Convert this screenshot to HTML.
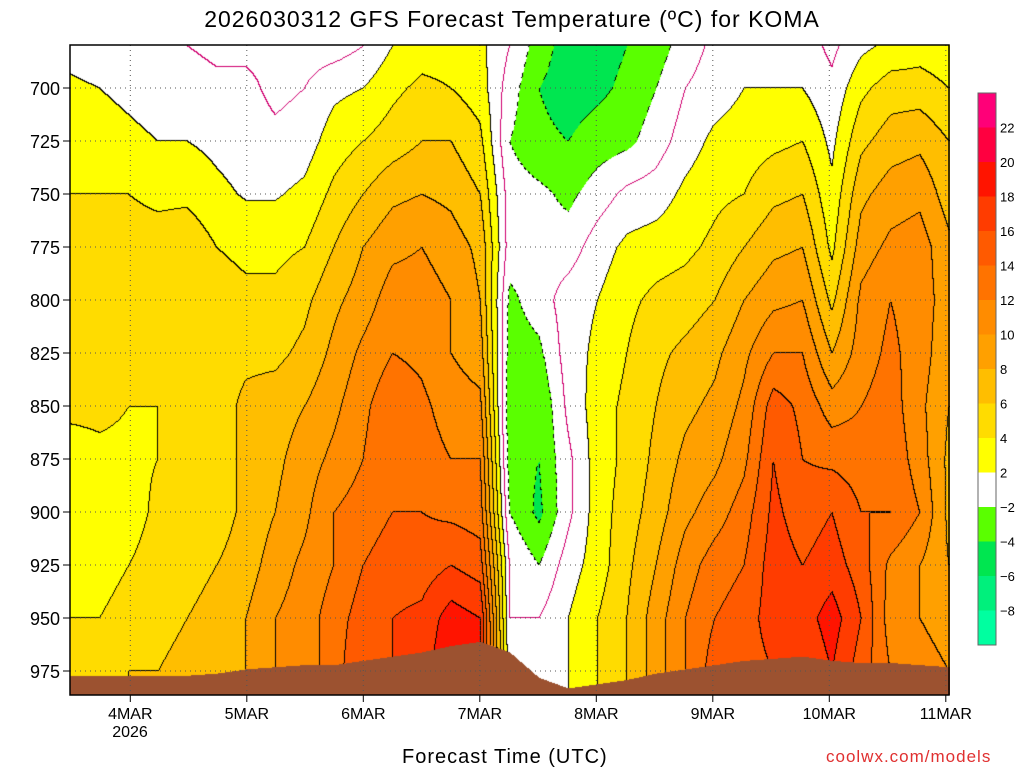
<!DOCTYPE html>
<html><head><meta charset="utf-8">
<style>
body{margin:0;background:#fff;width:1024px;height:768px;overflow:hidden;position:relative;font-family:"Liberation Sans",sans-serif;}
.t{position:absolute;white-space:nowrap;color:#000;}
</style></head><body>
<div class="t" style="left:0;width:1024px;text-align:center;top:6px;font-size:23px;letter-spacing:1px;">2026030312 GFS Forecast Temperature (ºC) for KOMA</div>
<canvas id="plot" width="880" height="650" style="position:absolute;left:70px;top:45px;"></canvas>
<svg id="ov" width="1024" height="768" style="position:absolute;left:0;top:0;"></svg>
<div class="t" style="left:402px;top:746px;font-size:20px;letter-spacing:1px;">Forecast Time (UTC)</div>
<div class="t" style="left:826px;top:747px;font-size:17px;color:#e03030;letter-spacing:1px;">coolwx.com/models</div>
<script>
const levels=[680,700,725,750,775,800,825,850,875,900,925,950,975,990];
const days=["4MAR","5MAR","6MAR","7MAR","8MAR","9MAR","10MAR","11MAR"];
const yTicks=[700,725,750,775,800,825,850,875,900,925,950,975];
const cbLabels=[22,20,18,16,14,12,10,8,6,4,2,-2,-4,-6,-8];
const surfP=[977,977,977,977,977,976,974,973,972,972,970,968,966,963,961,966,978,983,981,979,976,974,972,970,969,968,970,971,971,972,973];
const temps=[
[1,2.5,3,4,5,5,5,4.5,3,2.5,3,4,5,5],
[0.5,2,3,4,5,5.5,5,4.5,3.5,2,3,4,5,5],
[0.5,1.5,2.5,4,5,5.5,5,4,3.5,3,4,5,6,6],
[0,1,2,3.5,5,5,4.5,4,4,4.5,5,5.5,6,6],
[0,1,2,3.5,5.5,5.5,4.5,4,4.5,5,5.5,6,6.5,6.5],
[-0.5,0.5,1.5,2.5,4,5,5,5,5,5,6,6.5,7,7],
[-0.5,0.5,1,1.8,3.5,4.5,5.5,6.5,6.5,6.5,7,8,8,8],
[-0.5,-0.5,0.5,1.8,3.5,4.5,5.5,7,7.5,8,9,10,10,10],
[-1,0,1,2.5,4,5.5,6.5,8,9,9.5,10.5,11,11,11],
[-1,1.5,3,4.5,6,7.5,8.5,9.5,10.5,12,12,13,13,13],
[0,2,4,6,8,9,10.5,11.5,12,13,14,15,16,16],
[2,3.5,5,7.5,9.5,11,12,13.5,14,14,15,16,16,16],
[3,4.5,6,8,10,11,11.5,12.5,13,14,15,16.5,17,17],
[3,4,6,7.5,9,10,10,11,12,13.5,16,19,20,20],
[2.5,3,4.5,6,7.5,8,9,10.5,12,13,15,18,18,18],
[0,-1,-2,-1,-1,-2.5,-3,-3.5,-3,-2,0,0,1,1],
[-3,-4,-3.5,-1.5,-1,-1,-2.5,-4,-4,-4.5,-2,0,1,1],
[-5,-5,-4,-2.5,-1,1,1,0.5,-0.5,-0.5,1,2,2,2],
[-5,-4.5,-3,-1,1,2,2.5,3,3,3,3,4,4,4],
[-4,-3.5,-2.5,0.5,2.5,3.5,4,4.5,4.5,5,5.5,6,6,6],
[-3,-2,-1,1,3,4.5,5.5,6,6.5,7,8,9,9,9],
[-1,0,1,2.5,3.5,5,6.5,7.5,8.5,9.5,11,12,12,12],
[0.5,1,2.5,3.5,4.5,6,7.5,8.5,9.5,11,13,14,15,15],
[1,2,3,4,6,8,9.5,10.5,11.5,13,14,15,15,15],
[1,2,3.5,5.5,7.5,9.5,12,15,16,16.5,17,17,16,16],
[1,2,4,6,8,10,12,13.5,14,15,16,17,16,16],
[-0.5,0.5,1.5,2.5,3.5,5.5,8,11,13.5,16,17,19,18,18],
[1.5,3.5,5.5,7.5,9,10.5,11,12,13,14,15,16,15,15],
[2.5,5,7,9,10.5,12,12.5,13,13.5,14,11.5,11,12,12],
[3,5,7.5,9.5,11,11,11,10.5,11,12,10,10,11,11],
[2.5,4,6,7,8.5,9,8.5,8,7.5,7.5,8,9,10,10]
];
const binColors=["#00ffa0","#00f07c","#00e650","#5aff00","#ffffff","#ffff00","#ffdc00","#ffbe00","#ffa000","#ff8c00","#ff7300","#ff5a00","#ff3c00","#ff1400","#ff0040","#ff0078"];
const X0=70,X1=949,NT=temps.length;
function xOfT(i){return X0+i*(X1-X0)/(NT-1);}
function tOfX(x){return (x-X0)*(NT-1)/(X1-X0);}
function yOfP(p){return 88+(p-700)*53/25;}
function pOfY(y){return 700+(y-88)*25/53;}
function xOfDay(d){return 130.3+d*116.5;}
function binOf(T){ if(T>=-2&&T<2)return 4; if(T<-2){let b=4+Math.floor((T+2)/2);return Math.max(0,b);} let b=5+Math.floor((T-2)/2);return Math.min(15,b);}
function val(t,p){
  let i=Math.min(NT-2,Math.max(0,Math.floor(t))),ft=Math.min(1,Math.max(0,t-i));
  let k=0;while(k<levels.length-2&&p>levels[k+1])k++;
  let fp=Math.min(1,Math.max(0,(p-levels[k])/(levels[k+1]-levels[k])));
  const a=temps[i][k]*(1-fp)+temps[i][k+1]*fp,b=temps[i+1][k]*(1-fp)+temps[i+1][k+1]*fp;
  return a*(1-ft)+b*ft;
}
function sp(t){let i=Math.min(NT-2,Math.max(0,Math.floor(t))),f=t-i;return surfP[i]*(1-f)+surfP[i+1]*f;}
const cv=document.getElementById('plot'),ctx=cv.getContext('2d');
const W=880,H=650,img=ctx.createImageData(W,H);
const T=new Float32Array(W*H),B=new Int8Array(W*H);
function hex(c){return [parseInt(c.substr(1,2),16),parseInt(c.substr(3,2),16),parseInt(c.substr(5,2),16)];}
const rgb=binColors.map(hex);
for(let y=0;y<H;y++){const p=pOfY(y+45);for(let x=0;x<W;x++){const t=tOfX(x+70);const v=val(t,p);T[y*W+x]=v;B[y*W+x]=Math.floor(v/2);}}
for(let y=0;y<H;y++){const p=pOfY(y+45);for(let x=0;x<W;x++){
  const idx=y*W+x,t=tOfX(x+70);let c;
  if(p>sp(t)) c=[156,82,48];
  else{
    c=rgb[binOf(T[idx])];
    const b=B[idx];
    const br=x<W-1?B[idx+1]:b, bd=y<H-1?B[idx+W]:b;
    if(br!==b||bd!==b){const lvv=2*Math.max(Math.max(b,br),bd);
      if(lvv===0) c=[208,0,111];
      else if(lvv<0){ if(((x+y)>>2)%2===0) c=[0,0,0]; }
      else c=[0,0,0];}
  }
  const o=idx*4;img.data[o]=c[0];img.data[o+1]=c[1];img.data[o+2]=c[2];img.data[o+3]=255;}}
ctx.putImageData(img,0,0);
const NS="http://www.w3.org/2000/svg",sv=document.getElementById('ov');
function el(tag,attrs,txt){const e=document.createElementNS(NS,tag);for(const k in attrs)e.setAttribute(k,attrs[k]);if(txt!==undefined)e.textContent=txt;sv.appendChild(e);return e;}
yTicks.forEach(p=>{const y=yOfP(p);
  const g=el('line',{x1:70,x2:949,y1:y,y2:y,stroke:'#555','stroke-dasharray':'1,4','stroke-width':1});
  
  
  const tk=el('line',{x1:63,x2:70,y1:y,y2:y,stroke:'#000'});
  
  
  const l=el('text',{x:60,y:y+7,'text-anchor':'end','font-size':18,'font-family':'Liberation Sans, sans-serif'},String(p));
  
  
});
days.forEach((d,i)=>{const x=xOfDay(i);
  const g=el('line',{x1:x,x2:x,y1:45,y2:695,stroke:'#555','stroke-dasharray':'1,4'});
  
  
  const tk=el('line',{x1:x,x2:x,y1:695,y2:702,stroke:'#000'});
  
  
  const l=el('text',{x:x,y:719,'text-anchor':'middle','font-size':16,'font-family':'Liberation Sans, sans-serif'},d);
  
  
});
const yr=el('text',{x:130,y:737,'text-anchor':'middle','font-size':16,'font-family':'Liberation Sans, sans-serif'},'2026');


const fr=el('rect',{x:70,y:45,width:879,height:650,fill:'none',stroke:'#000','stroke-width':1.5});


const cbTop=93,cbH=34.5;
for(let j=0;j<16;j++){const bi=15-j;
  const r=el('rect',{x:978,y:cbTop+j*cbH,width:18,height:cbH+0.5,fill:binColors[bi]});
  
  }
const cf=el('rect',{x:978,y:cbTop,width:18,height:16*cbH,fill:'none',stroke:'#666'});


cbLabels.forEach((v,j)=>{const y=cbTop+(j+1)*cbH;
  const l=el('text',{x:1000,y:y+5,'font-size':13,'font-family':'Liberation Sans, sans-serif'},v<0?'\u2212'+(-v):String(v));
  
  });
</script>
</body></html>
